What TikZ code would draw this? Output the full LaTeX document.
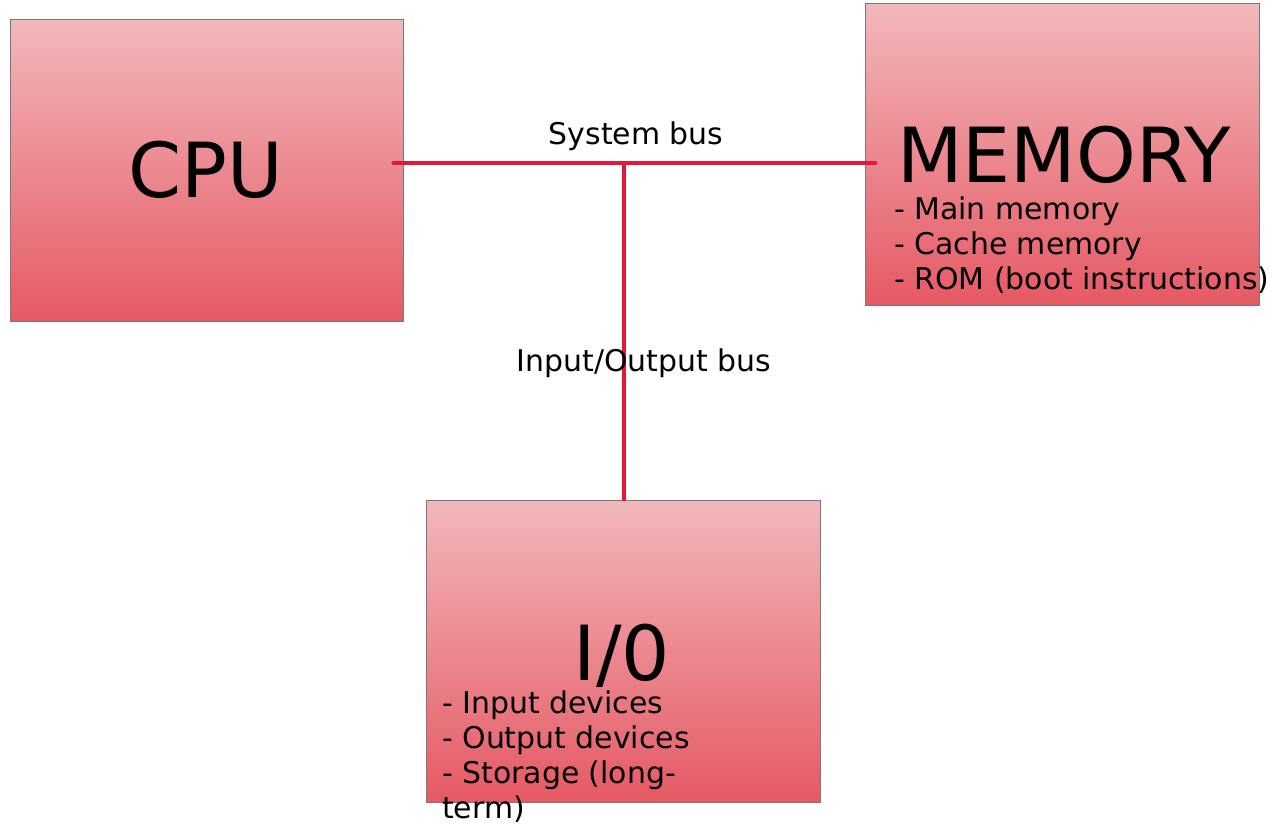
\documentclass[tikz,border=0pt]{standalone}
\usepackage{fontspec}
\setmainfont{DejaVu Sans}
\definecolor{boxtop}{RGB}{242,184,187}
\definecolor{boxbottom}{RGB}{229,89,100}
\definecolor{boxedge}{RGB}{120,120,120}
\definecolor{buscolor}{RGB}{226,24,60}
\begin{document}
\begin{tikzpicture}[x=1pt,y=-1pt,
  unitbox/.style={rectangle, inner sep=0pt, minimum width=394pt, minimum height=302pt,
    top color=boxtop, bottom color=boxbottom, draw=boxedge, line width=1pt},
  bus/.style={draw=buscolor, line width=4pt, line cap=round},
  title/.style={inner sep=0pt, anchor=base, text depth=0pt, font=\fontsize{76}{80}\selectfont},
  small/.style={inner sep=0pt, font=\fontsize{29.9}{35}\selectfont},
  item/.style={small, anchor=base west}]
  \useasboundingbox (0,0) rectangle (1270,826);

  % the three units
  \node[unitbox, minimum width=393pt] (cpu) at (206.5,171) {};
  \node[unitbox] (mem) at (1062,155) {};
  \node[unitbox] (io) at (623,651) {};

  % buses
  \coordinate (j) at (624,163);
  \coordinate (busL) at ([xshift=-10pt]cpu.east);
  \coordinate (busR) at ([xshift=11pt]mem.west);
  \draw[bus] (busL |- j) -- (busR |- j);
  \draw[bus] (j) -- (j |- io.north);

  % bus labels
  \node[small, anchor=base] (sysbus) at (636,145) {System bus};
  \node[small, anchor=base] (iobus) at (644,372) {Input/Output bus};

  % unit titles
  \node[title] (cputitle) at (206,198) {CPU};
  \node[title] (memtitle) at (1064,183) {MEMORY};
  \node[title] (iotitle) at (622,680) {I/0};

  % memory contents
  \node[item] (m1) at (894,220) {- Main memory};
  \node[item] (m2) at (894,255) {- Cache memory};
  \node[item] (m3) at (894,290) {- ROM (boot instructions)};

  % i/o contents
  \node[item] (i1) at (442,713) {- Input devices};
  \node[item] (i2) at (442,748) {- Output devices};
  \node[item] (i3) at (442,783) {- Storage (long-};
  \node[item] (i4) at (442,818) {term)};
\end{tikzpicture}
\end{document}
